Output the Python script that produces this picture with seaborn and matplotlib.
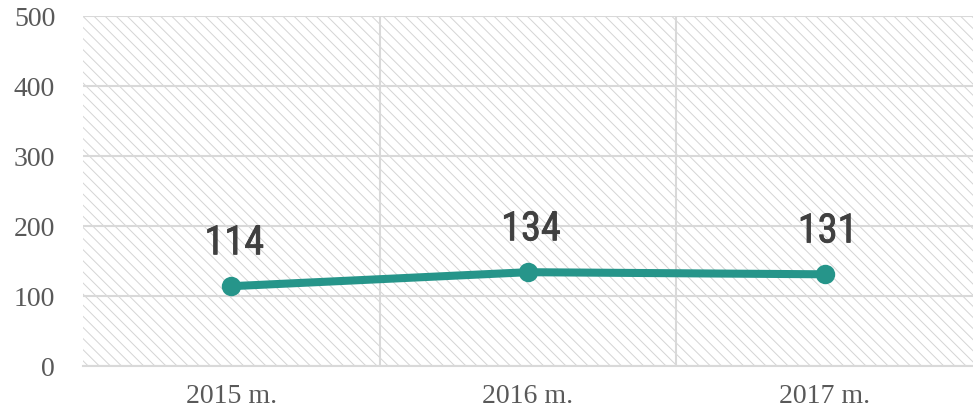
import matplotlib
matplotlib.use("Agg")
import matplotlib.pyplot as plt
import matplotlib.patheffects as pe
from matplotlib.patches import Rectangle
import seaborn as sns
import pandas as pd

years = ["2015 m.", "2016 m.", "2017 m."]
values = [114, 134, 131]
y_ticks = [0, 100, 200, 300, 400, 500]

line_color = "#26958a"
grid_color = "#d9d9d9"
text_color = "#595959"

sns.set_style("white")
plt.rcParams["hatch.color"] = "#d4d4d4"
plt.rcParams["hatch.linewidth"] = 0.7

df = pd.DataFrame({"year": years, "value": values})

fig = plt.figure(figsize=(9.73, 4.14), dpi=100)
ax = fig.add_axes([83 / 973, 47 / 414, 890 / 973, 350 / 414])

# hatched background
ax.add_patch(Rectangle((0, 0), 1, 1, transform=ax.transAxes, facecolor="white",
                       edgecolor="#d4d4d4", hatch="\\\\\\", linewidth=0, zorder=0))

ax.set_ylim(0, 500)
ax.set_xlim(-0.5, 2.5 - 7 / 299)
ax.set_yticks(y_ticks)
ax.yaxis.grid(True, color=grid_color, linewidth=1.5, zorder=1)
for xb in [0.5, 1.5]:
    ax.axvline(xb, color=grid_color, linewidth=1.5, zorder=1)

sns.lineplot(data=df, x="year", y="value", ax=ax, color=line_color, linewidth=5.8,
             marker="o", markersize=14, markeredgewidth=0, zorder=3)

# data labels, slightly thickened to look like a medium weight
for i, v in enumerate(values):
    ax.text(i + 0.01, v + 62, str(v), ha="center", va="center", fontsize=29,
            family=["Liberation Sans Narrow", "Roboto Condensed", "Roboto"],
            color="#404040",
            path_effects=[pe.withStroke(linewidth=0.6, foreground="#404040")])

ax.set_xlabel("")
ax.set_ylabel("")
ax.set_xticks(range(len(years)))
ax.set_xticklabels(years)
ax.set_xticks([-0.5, 0.5, 1.5, 2.5], minor=True)
ax.tick_params(axis="x", which="major", length=0, pad=12)
ax.tick_params(axis="x", which="minor", length=8, color=grid_color, width=1.5)
ax.tick_params(axis="y", length=0, pad=20)
for lab in ax.get_xticklabels() + ax.get_yticklabels():
    lab.set_family("Liberation Serif")
    lab.set_fontsize(20)
    lab.set_color(text_color)

for side in ["left", "right", "top"]:
    ax.spines[side].set_visible(False)
ax.spines["bottom"].set_color(grid_color)
ax.spines["bottom"].set_linewidth(1.5)

fig.savefig("out.png", dpi=100)
